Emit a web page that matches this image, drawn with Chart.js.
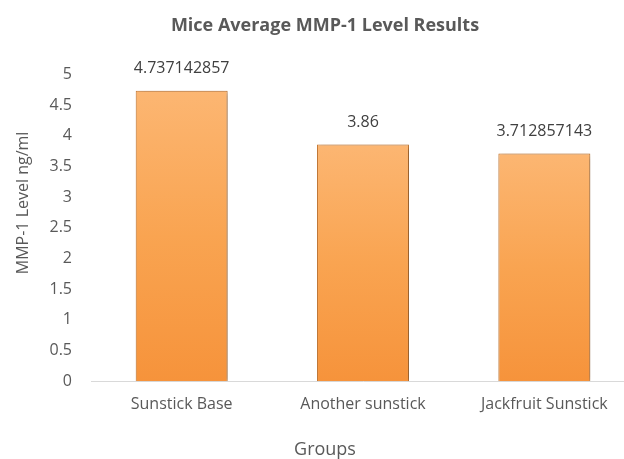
<!DOCTYPE html>
<html>
<head>
<meta charset="utf-8">
<script src="https://cdn.jsdelivr.net/npm/chart.js@4/dist/chart.umd.min.js"></script>
<style>
  html, body { margin:0; padding:0; background:#fff; overflow:hidden; }
  #wrap { width:650px; height:459px; }
</style>
</head>
<body>
<div id="wrap"><canvas id="c"></canvas></div>
<script>
// data
const groups = ['Sunstick Base', 'Another sunstick', 'Jackfruit Sunstick'];
const mmpLevels = [4.737142857, 3.86, 3.712857143];
const valueLabels = ['4.737142857', '3.86', '3.712857143'];

const FONT = "'Open Sans', sans-serif";
const GREY = '#595959';

// vertical orange gradient per bar
function barFill(ctx){
  const chart = ctx.chart;
  const y = chart.scales.y;
  if(!chart.chartArea || !y || ctx.parsed == null) return '#f8a14f';
  const top = y.getPixelForValue(ctx.parsed.y);
  const base = y.getPixelForValue(0);
  const g = chart.ctx.createLinearGradient(0, top, 0, base);
  g.addColorStop(0, '#fcb672');
  g.addColorStop(0.5, '#f9a451');
  g.addColorStop(1, '#f6933b');
  return g;
}

// soft shadow behind the bars
const shadowPlugin = {
  id:'barShadow',
  beforeDatasetDraw(chart){
    const c = chart.ctx;
    c.save();
    c.shadowColor = 'rgba(0,0,0,0.35)';
    c.shadowBlur = 5;
    c.shadowOffsetX = 2;
    c.shadowOffsetY = 1;
  },
  afterDatasetDraw(chart){ chart.ctx.restore(); }
};

// value labels above each bar
const valuePlugin = {
  id:'valueLabels',
  afterDatasetsDraw(chart){
    const c = chart.ctx;
    const meta = chart.getDatasetMeta(0);
    c.save();
    c.font = '16px ' + FONT;
    c.fillStyle = '#404040';
    c.textAlign = 'center';
    c.textBaseline = 'bottom';
    meta.data.forEach((bar, i) => {
      c.fillText(valueLabels[i], bar.x, bar.y - 14);
    });
    c.restore();
  }
};

// y axis title (sits a little above the middle, like the original)
const yTitlePlugin = {
  id:'yTitle',
  afterDraw(chart){
    const c = chart.ctx;
    const a = chart.chartArea;
    c.save();
    c.translate(23, (a.top + a.bottom) / 2 - 25);
    c.rotate(-Math.PI / 2);
    c.font = '16px ' + FONT;
    c.fillStyle = GREY;
    c.textAlign = 'center';
    c.textBaseline = 'middle';
    c.fillText('MMP-1 Level ng/ml', 0, 0);
    c.restore();
  }
};

new Chart(document.getElementById('c'), {
  type:'bar',
  data:{
    labels: groups,
    datasets:[{
      label:'MMP-1',
      data: mmpLevels,
      backgroundColor: barFill,
      borderColor:'#c8772e',
      borderWidth:1,
      barPercentage:1,
      categoryPercentage:0.507
    }]
  },
  options:{
    responsive:true,
    maintainAspectRatio:false,
    animation:false,
    layout:{ padding:{ left:15, right:15, top:0, bottom:0 } },
    plugins:{
      legend:{ display:false },
      tooltip:{ enabled:false },
      title:{
        display:true,
        text:'Mice Average MMP-1 Level Results',
        color:GREY,
        font:{ family:FONT, size:18, weight:'bold' },
        padding:{ top:15, bottom:38 }
      },
      subtitle:{
        display:true,
        position:'bottom',
        text:'Groups',
        color:GREY,
        font:{ family:FONT, size:18 },
        padding:{ top:11, bottom:-2 }
      }
    },
    scales:{
      x:{
        grid:{ display:false, drawTicks:false },
        border:{ display:true, color:'#d9d9d9', width:1 },
        ticks:{ color:GREY, font:{ family:FONT, size:16 }, padding:14, maxRotation:0 }
      },
      y:{
        min:0, max:5,
        afterFit:(s) => { s.width = 76; },
        grid:{ display:false, drawTicks:false },
        border:{ display:false },
        ticks:{
          stepSize:0.5, color:GREY, font:{ family:FONT, size:16 }, padding:19,
          callback:(v) => String(Math.round(v * 10) / 10)
        }
      }
    }
  },
  plugins:[shadowPlugin, valuePlugin, yTitlePlugin]
});
</script>
</body>
</html>
